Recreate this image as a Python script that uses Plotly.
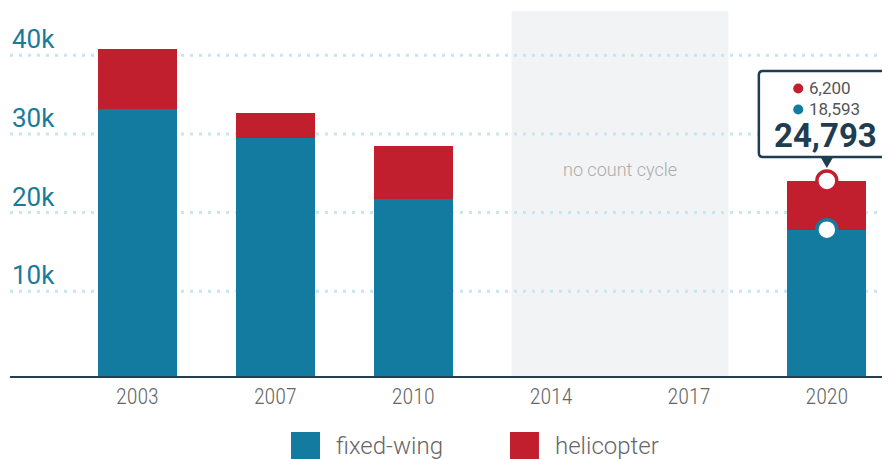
import plotly.graph_objects as go

# ---- data ----
years = ["2003", "2007", "2010", "2014", "2017", "2020"]
fixed_wing = [33900, 30300, 22500, None, None, 18593]
helicopter = [7700, 3100, 6700, None, None, 6200]
gap_years = ["2014", "2017"]
gap_label = "no count cycle"
tick_vals = [10000, 20000, 30000, 40000]
tick_labels = ["10k", "20k", "30k", "40k"]
series_names = ["fixed-wing", "helicopter"]

# ---- style ----
TEAL = "#137b9f"
RED = "#c11f2e"
NAVY = "#1e3d51"
GRID = "#c9e5f3"
BAR_W = 0.573
FONT = "Roboto, 'Open Sans', sans-serif"
COND = "'Roboto Condensed', 'Liberation Sans Narrow', Roboto, sans-serif"

xs = list(range(len(years)))
last = len(years) - 1
total_last = fixed_wing[last] + helicopter[last]

fig = go.Figure()
fig.add_bar(x=xs, y=fixed_wing, name=series_names[0], marker=dict(color=TEAL, line=dict(width=0)),
            width=BAR_W, hoverinfo="skip")
fig.add_bar(x=xs, y=helicopter, name=series_names[1], marker=dict(color=RED, line=dict(width=0)),
            width=BAR_W, hoverinfo="skip")

# highlight markers on last year
fig.add_scatter(x=[xs[last]], y=[fixed_wing[last]], mode="markers",
                marker=dict(size=20, color="white", line=dict(color=TEAL, width=3.5)), hoverinfo="skip")
fig.add_scatter(x=[xs[last]], y=[total_last], mode="markers",
                marker=dict(size=20, color="white", line=dict(color=RED, width=3.5)), hoverinfo="skip")

shapes = []
# gray band for gap years
g0 = years.index(gap_years[0])
g1 = years.index(gap_years[-1])
shapes.append(dict(type="rect", xref="x", yref="y domain", x0=g0 - BAR_W / 2, x1=g1 + BAR_W / 2,
                   y0=0, y1=1, fillcolor="#f2f3f5", line=dict(width=0), layer="below"))
# dotted gridlines
for v in tick_vals:
    shapes.append(dict(type="line", xref="paper", x0=0, x1=1, yref="y", ysizemode="pixel",
                       yanchor=v, y0=6, y1=6, line=dict(color=GRID, width=3, dash="3px,6px"),
                       layer="below"))

# callout box (pixel offsets relative to last total)
r = 4
L, R, B, T = -68, 68, 24, 110
box_path = (f"M {L+r} {B} L {R-r} {B} Q {R} {B} {R} {B+r} L {R} {T-r} Q {R} {T} {R-r} {T} "
            f"L {L+r} {T} Q {L} {T} {L} {T-r} L {L} {B+r} Q {L} {B} {L+r} {B} Z")
shapes.append(dict(type="path", xref="x", yref="y", xsizemode="pixel", ysizemode="pixel",
                   xanchor=xs[last], yanchor=total_last, path=box_path,
                   fillcolor="white", line=dict(color=NAVY, width=2.5)))
shapes.append(dict(type="path", xref="x", yref="y", xsizemode="pixel", ysizemode="pixel",
                   xanchor=xs[last], yanchor=total_last, path="M -7 25 L 7 25 L 0 13 Z",
                   fillcolor=NAVY, line=dict(width=0)))
# legend-like dots in callout
for col, dy in [(RED, 92.4), (TEAL, 71.4)]:
    shapes.append(dict(type="circle", xref="x", yref="y", xsizemode="pixel", ysizemode="pixel",
                       xanchor=xs[last], yanchor=total_last, x0=-33.6, x1=-23.6,
                       y0=dy - 5, y1=dy + 5, fillcolor=col, line=dict(width=0)))

# legend squares (paper coords)
shapes.append(dict(type="rect", xref="paper", yref="paper", x0=0.3193, x1=0.3523,
                   y0=-0.2274, y1=-0.1534, fillcolor=TEAL, line=dict(width=0)))
shapes.append(dict(type="rect", xref="paper", yref="paper", x0=0.5682, x1=0.6011,
                   y0=-0.2274, y1=-0.1534, fillcolor=RED, line=dict(width=0)))

annotations = []
for v, t in zip(tick_vals, tick_labels):
    annotations.append(dict(text=t, xref="paper", x=0, xanchor="left", yref="y", y=v,
                            yanchor="middle", yshift=22, showarrow=False,
                            font=dict(family=FONT, size=26, color="#1a7a9c")))
annotations.append(dict(text=gap_label, xref="x", x=(g0 + g1) / 2, yref="y domain", y=0.567,
                        showarrow=False, font=dict(family=FONT, size=18, color="#ababab", weight=300)))
annotations.append(dict(text=f"{helicopter[last]:,}", x=xs[last], y=total_last, xanchor="left",
                        xshift=-20, yshift=92.4, showarrow=False,
                        font=dict(family=FONT, size=17, color="#555555")))
annotations.append(dict(text=f"{fixed_wing[last]:,}", x=xs[last], y=total_last, xanchor="left",
                        xshift=-20, yshift=71.4, showarrow=False,
                        font=dict(family=FONT, size=17, color="#555555")))
annotations.append(dict(text=f"<b>{total_last:,}</b>", x=xs[last], y=total_last, xanchor="center",
                        xshift=-1, yshift=45.7, showarrow=False,
                        font=dict(family=FONT, size=33, color=NAVY)))
annotations.append(dict(text=series_names[0], xref="paper", x=0.3679, xanchor="left",
                        yref="paper", y=-0.1918, yanchor="middle", showarrow=False,
                        font=dict(family=FONT, size=24, color="#666666", weight=300)))
annotations.append(dict(text=series_names[1], xref="paper", x=0.6171, xanchor="left",
                        yref="paper", y=-0.1918, yanchor="middle", showarrow=False,
                        font=dict(family=FONT, size=24, color="#666666", weight=300)))

fig.update_layout(
    width=890, height=459,
    margin=dict(l=2, r=8, t=3, b=91),
    barmode="stack",
    showlegend=False,
    paper_bgcolor="white", plot_bgcolor="white",
    shapes=shapes, annotations=annotations,
    xaxis=dict(type="linear", range=[-0.924, 5.458], tickvals=xs, ticktext=years,
               showgrid=False, zeroline=False, showline=True, linecolor="#27404f", linewidth=2,
               ticks="", ticklabelstandoff=0,
               tickfont=dict(family=COND, size=22, color="#666666", weight=300),
               fixedrange=True),
    yaxis=dict(range=[0, 46380], showgrid=False, zeroline=False, showticklabels=False,
               fixedrange=True),
)

fig.write_html("out.html")
